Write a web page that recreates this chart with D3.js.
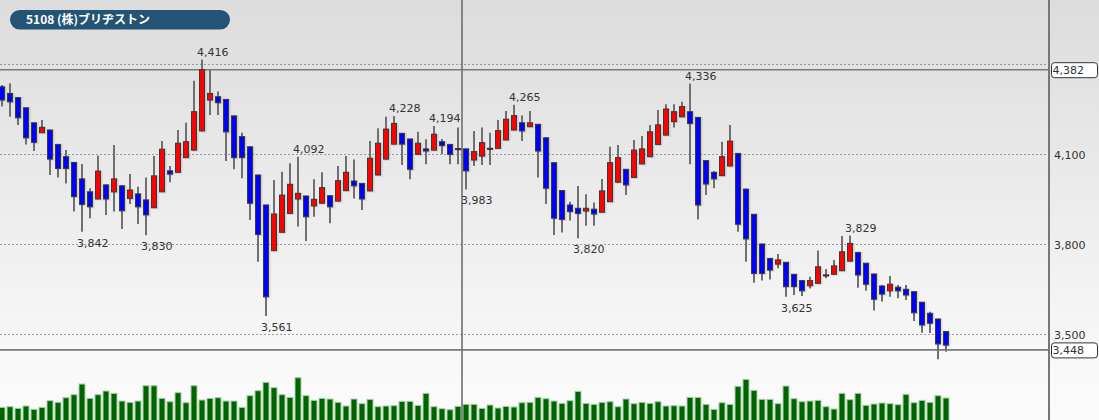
<!DOCTYPE html>
<html>
<head>
<meta charset="utf-8">
<script src="https://cdn.jsdelivr.net/npm/d3@7"></script>
<style>
html,body{margin:0;padding:0;background:#fafafa;}
svg{display:block;}
</style>
</head>
<body>
<svg id="chart" width="1099" height="420"></svg>
<script>
const title = "5108 (株)ブリヂストン";
const opens  = [4325,4303,4289,4255,4205,4172,4181,4133,4092,4073,4018,3975,3951,3998,3975,3995,3953,3968,3948,3922,3975,4045,4040,4089,4114,4178,4281,4292,4283,4228,4159,4125,4031,3931,3779,3840,3903,3951,3961,3928,3937,3962,3944,3979,4011,4003,3978,4031,4084,4134,4170,4151,4100,4118,4114,4142,4133,4119,4118,4081,4094,4120,4120,4148,4181,4205,4192,4200,4155,4072,3979,3931,3920,3911,3917,3907,3942,4007,4050,4023,4068,4092,4133,4164,4209,4225,4242,4223,4079,4040,4029,4061,4103,3984,3900,3801,3753,3734,3740,3700,3679,3662,3670,3698,3700,3712,3744,3773,3737,3701,3661,3645,3657,3650,3642,3607,3570,3551,3509];
const highs  = [4331,4337,4290,4256,4206,4214,4182,4134,4114,4074,4068,3987,4095,3999,4131,3996,4034,3992,4023,4094,4144,4061,4181,4205,4345,4416,4381,4309,4284,4229,4172,4126,4032,3932,4014,4042,4070,4092,3962,4017,4040,3963,4061,4094,4083,4004,4144,4187,4225,4228,4171,4152,4175,4150,4194,4151,4134,4189,4119,4178,4189,4172,4214,4244,4265,4229,4244,4201,4156,4073,3980,3942,3994,3967,3939,4018,4125,4131,4051,4148,4161,4198,4248,4267,4267,4275,4336,4224,4080,4044,4142,4198,4104,3985,3901,3802,3754,3768,3741,3701,3680,3692,3779,3718,3748,3828,3829,3774,3738,3702,3664,3694,3664,3664,3643,3608,3575,3552,3510];
const lows   = [4259,4225,4198,4133,4111,4171,4031,4023,4003,3909,3842,3887,3950,3898,3909,3851,3934,3868,3830,3921,3974,4007,4039,4088,4113,4177,4231,4231,4078,4050,4020,3881,3742,3561,3778,3839,3902,3859,3811,3892,3936,3870,3943,3978,3953,3914,3977,4030,4083,4133,4064,4017,4099,4067,4113,4100,4067,4067,3983,4061,4064,4064,4119,4147,4180,4144,4191,4023,3934,3831,3839,3879,3820,3862,3862,3906,3941,4006,3964,4022,4067,4091,4132,4163,4189,4224,4067,3883,3964,3987,4028,4060,3842,3742,3672,3679,3683,3720,3625,3631,3628,3653,3669,3687,3699,3711,3743,3655,3645,3579,3609,3625,3620,3614,3544,3505,3504,3417,3442];
const closes = [4281,4275,4222,4155,4140,4190,4084,4053,4053,3959,3933,3925,4044,3951,4018,3912,3981,3925,3898,4028,4117,4034,4137,4142,4242,4382,4303,4272,4175,4089,4089,3937,3833,3625,3901,3964,4000,3970,3892,3950,3989,3925,4012,4040,3995,3951,4087,4137,4184,4203,4134,4050,4137,4111,4167,4129,4100,4119,4045,4109,4139,4120,4179,4217,4229,4178,4205,4111,3987,3887,3883,3909,3903,3920,3901,3978,4072,4089,3998,4114,4118,4175,4198,4251,4242,4259,4203,3931,4001,4018,4092,4144,3867,3818,3703,3703,3714,3748,3659,3659,3645,3679,3725,3698,3728,3775,3803,3698,3667,3617,3634,3667,3645,3631,3572,3531,3537,3468,3464];
const volumes = [1900,2000,1750,2100,1600,1900,2900,2650,3350,3800,5400,3250,3800,4350,4000,2850,2650,2850,5150,5150,3250,2750,4100,2600,5150,3000,3250,3350,2850,2850,1900,3650,4400,5650,4850,3800,3400,6350,3650,2950,3250,3150,2650,2100,3150,2450,3100,2000,2100,2150,2800,2800,2200,4000,2000,1700,1550,2050,2350,2350,1750,2250,1800,2050,1950,2600,2650,3400,3200,2850,2500,2900,4300,2500,2350,2650,2750,2000,3150,2450,2650,2500,2750,2100,2150,2100,3400,3400,2350,1600,2600,2350,5050,6100,4450,3100,3100,2450,5100,3200,2750,2850,2950,2000,1650,4000,3050,4000,2200,2400,2550,2450,2300,3850,2600,2950,2650,3650,3300];
const yTicks = [3500, 3800, 4100, 4400];
const refLines = [4382, 3448];
const highMarks = [25, 37, 49, 54, 64, 86, 106];
const lowMarks = [10, 18, 33, 58, 72, 98];
const cursorIndex = 57.5;

const W = 1099, H = 420, axisX = 1049;
const svg = d3.select("#chart");
const fmt = d3.format(",");

const defs = svg.append("defs");
const grad = defs.append("linearGradient").attr("id","bg").attr("x1",0).attr("y1",0).attr("x2",0).attr("y2",1);
grad.append("stop").attr("offset","0%").attr("stop-color","#dcdcdc");
grad.append("stop").attr("offset","88%").attr("stop-color","#f9f9f9");
grad.append("stop").attr("offset","100%").attr("stop-color","#fbfbfb");
svg.append("rect").attr("width",W).attr("height",H).attr("fill","url(#bg)");

const n = opens.length;
const x = d3.scaleLinear().domain([0, n-1]).range([2, 2 + 8*(n-1)]);
const y = d3.scaleLinear().domain([3500, 4100]).range([334.3, 154.3]);
const yv = d3.scaleLinear().domain([0, 6350]).range([420, 377.7]);

// grid lines
svg.append("g").selectAll("line").data(yTicks).join("line")
  .attr("x1",0).attr("x2",axisX).attr("y1",d=>Math.round(y(d))+0.5).attr("y2",d=>Math.round(y(d))+0.5)
  .attr("stroke","#9a9a9a").attr("stroke-width",1).attr("stroke-dasharray","2,2");

// reference lines
svg.append("g").selectAll("line").data(refLines).join("line")
  .attr("x1",0).attr("x2",axisX).attr("y1",d=>y(d)).attr("y2",d=>y(d))
  .attr("stroke","#7a7a7a").attr("stroke-width",1.6);

// volume bars
svg.append("g").selectAll("rect").data(volumes).join("rect")
  .attr("x",(d,i)=>x(i)-3).attr("width",6)
  .attr("y",d=>yv(d)).attr("height",d=>H - yv(d) + 2)
  .attr("fill","#006400").attr("stroke","#a9cfa9").attr("stroke-width",1);

// vertical cursor line
svg.append("line").attr("x1",x(cursorIndex)).attr("x2",x(cursorIndex)).attr("y1",0).attr("y2",H)
  .attr("stroke","#6e6e6e").attr("stroke-width",1.6);

const idx = d3.range(n);
// wicks
svg.append("g").selectAll("line").data(idx).join("line")
  .attr("x1",i=>x(i)).attr("x2",i=>x(i))
  .attr("y1",i=>y(highs[i])).attr("y2",i=>y(lows[i]))
  .attr("stroke","#707070").attr("stroke-width",2);

// body shadows
svg.append("g").selectAll("rect").data(idx).join("rect")
  .attr("x",i=>x(i)-2.5).attr("width",7)
  .attr("y",i=>y(Math.max(opens[i],closes[i]))-0.5)
  .attr("height",i=>Math.max(2.5, Math.abs(y(opens[i])-y(closes[i]))+2))
  .attr("fill","rgba(0,0,0,0.12)");

// bodies
svg.append("g").selectAll("rect").data(idx).join("rect")
  .attr("x",i=>x(i)-2.5).attr("width",5)
  .attr("y",i=>y(Math.max(opens[i],closes[i])))
  .attr("height",i=>Math.max(1, Math.abs(y(opens[i])-y(closes[i]))))
  .attr("fill",i=>closes[i]>opens[i] ? "#ff0000" : (closes[i]<opens[i] ? "#0000ff" : "#8b0000"))
  .attr("stroke",i=>closes[i]===opens[i] ? "#5a2020" : "#3a3a3a").attr("stroke-width",1);

// high / low labels
const lblFont = "'DejaVu Sans', Verdana, sans-serif";
svg.append("g").selectAll("text").data(highMarks).join("text")
  .attr("x",i=>x(i)-5).attr("y",i=>y(highs[i])-4)
  .attr("font-family",lblFont).attr("font-size",11).attr("fill","#333")
  .text(i=>fmt(highs[i]));
svg.append("g").selectAll("text").data(lowMarks).join("text")
  .attr("x",i=>x(i)-5).attr("y",i=>y(lows[i])+15)
  .attr("font-family",lblFont).attr("font-size",11).attr("fill","#333")
  .text(i=>fmt(lows[i]));

// right axis
svg.append("line").attr("x1",axisX).attr("x2",axisX).attr("y1",0).attr("y2",H)
  .attr("stroke","#777").attr("stroke-width",2);
// tick labels hidden by a reference-value box are not drawn (the box covers them)
const visibleTicks = yTicks.filter(t => refLines.every(r => Math.abs(y(t) - y(r)) > 12));
svg.append("g").selectAll("text").data(visibleTicks).join("text")
  .attr("x",axisX+5).attr("y",d=>y(d)+4.5)
  .attr("font-family",lblFont).attr("font-size",11).attr("fill","#333")
  .text(d=>fmt(d));

// reference value boxes
const boxes = svg.append("g").selectAll("g").data(refLines).join("g");
boxes.append("rect").attr("x",axisX+2.5).attr("y",d=>y(d)-7).attr("width",46).attr("height",15)
  .attr("rx",3).attr("fill","#fff").attr("stroke","#333").attr("stroke-width",1);
boxes.append("text").attr("x",axisX+3.5).attr("y",d=>y(d)+4.5)
  .attr("font-family",lblFont).attr("font-size",11).attr("fill","#333")
  .text(d=>fmt(d));

// title badge
svg.append("rect").attr("x",10).attr("y",10).attr("width",220).attr("height",19.5).attr("rx",9.75)
  .attr("fill","#235476");
svg.append("text").attr("x",26).attr("y",24.3)
  .attr("font-family","'Noto Sans CJK JP', 'Noto Sans', sans-serif").attr("font-size",12).attr("font-weight","bold")
  .attr("fill","#ffffff").text(title);
</script>
</body>
</html>
